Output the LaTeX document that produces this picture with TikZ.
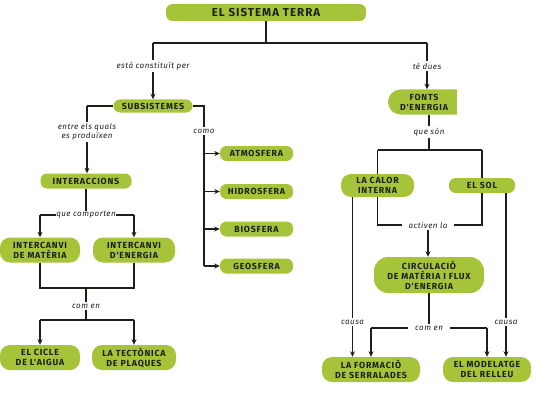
\documentclass[tikz,border=0pt]{standalone}
\usepackage{fontspec}
\usetikzlibrary{arrows.meta,shapes.misc}
\newfontfamily\boxfnt{Fira Sans}[LetterSpace=9]
\newfontfamily\lblfnt{Fira Sans}[LetterSpace=6]
\definecolor{lime}{RGB}{166,196,58}
\definecolor{ink}{RGB}{28,32,24}
\tikzset{
  box/.style={fill=lime, text=ink, rounded corners=6.5pt, inner sep=0pt,
    font=\boxfnt\fontsize{8.8}{10}\selectfont\bfseries, align=center},
  box2/.style={box, rounded corners=10pt},
  lbl/.style={fill=white, inner sep=1.5pt, text=ink,
    font=\lblfnt\fontsize{8}{9.5}\selectfont\itshape, align=center},
  conn/.style={draw=ink, line width=1.1pt},
  arr/.style={conn, -{Stealth[length=5.5pt,width=5pt]}}
}
\begin{document}
\begin{tikzpicture}[x=1pt,y=-1pt]
\useasboundingbox (0,0) rectangle (537,393);
% nodes
\node[box, minimum width=200pt, minimum height=17pt, font=\boxfnt\fontsize{11.5}{13}\selectfont\bfseries] (terra) at (266,12.5) {EL SISTEMA TERRA};
\node[box, minimum width=79pt, minimum height=13pt] (subs) at (153,106) {SUBSISTEMES};
\node[fill=lime, text=ink, inner sep=0pt, font=\boxfnt\fontsize{8.8}{10}\selectfont\bfseries, align=center,
  rounded rectangle, rounded rectangle right arc=none, minimum width=69pt, minimum height=25pt] (fonts) at (424,102) {FONTS\\D'ENERGIA};
\node[box, minimum width=91pt, minimum height=15pt] (inter) at (86,181) {INTERACCIONS};
\node[box, minimum width=73pt, minimum height=15pt] (atmo) at (256.5,153.5) {ATMOSFERA};
\node[box, minimum width=73pt, minimum height=15pt] (hidro) at (256.5,191.5) {HIDROSFERA};
\node[box, minimum width=73pt, minimum height=15pt] (bio) at (256.5,229) {BIOSFERA};
\node[box, minimum width=73pt, minimum height=15pt] (geo) at (256.5,266) {GEOSFERA};
\node[box2, minimum width=80pt, minimum height=25pt] (imat) at (40,250) {INTERCANVI\\DE MATÈRIA};
\node[box2, minimum width=82pt, minimum height=25pt] (iene) at (134,250) {INTERCANVI\\D'ENERGIA};
\node[box2, minimum width=80pt, minimum height=25pt] (cicle) at (40,357.5) {EL CICLE\\DE L'AIGUA};
\node[box2, minimum width=84pt, minimum height=25pt] (tect) at (134,357.5) {LA TECTÒNICA\\DE PLAQUES};
\node[box2, minimum width=73pt, minimum height=23pt] (calor) at (377.5,185.5) {LA CALOR\\INTERNA};
\node[box, minimum width=66pt, minimum height=15pt] (sol) at (482,185.5) {EL SOL};
\node[box2, minimum width=110pt, minimum height=36pt, rounded corners=14pt] (circ) at (429,275) {CIRCULACIÓ\\DE MATÈRIA I FLUX\\D'ENERGIA};
\node[box2, minimum width=98pt, minimum height=25pt] (serr) at (371,369.5) {LA FORMACIÓ\\DE SERRALADES};
\node[box2, minimum width=88pt, minimum height=25pt] (mod) at (487,369.5) {EL MODELATGE\\DEL RELLEU};
% junction coordinates
\coordinate (j1) at (266,43);
\coordinate (j1l) at (153,43);
\coordinate (j1r) at (427,43);
\coordinate (j2) at (87,106);
\coordinate (j3) at (204,106);
\coordinate (j4) at (86,215);
\coordinate (j5) at (86,288);
\coordinate (j6) at (86,320);
\coordinate (j7) at (429,150);
\coordinate (j8) at (428,225);
\coordinate (j9) at (429,328);
% connectors
\draw[conn] (terra.south -| j1) -- (j1);
\draw[conn] (j1l) -- (j1r);
\draw[arr] (j1l) -- (j1l |- subs.north);
\draw[arr] (j1r) -- (j1r |- fonts.north);
\draw[conn] (subs.west) -- (j2);
\draw[arr] (j2) -- (j2 |- inter.north);
\draw[conn] (subs.east) -- (j3) -- (j3 |- geo.west);
\draw[arr] (j3 |- atmo.west) -- (atmo.west);
\draw[arr] (j3 |- hidro.west) -- (hidro.west);
\draw[arr] (j3 |- bio.west) -- (bio.west);
\draw[arr] (j3 |- geo.west) -- (geo.west);
\draw[conn] (inter.south -| j4) -- (j4);
\draw[conn] (j4 -| imat.north) -- (j4 -| iene.north);
\draw[arr] (j4 -| imat.north) -- (imat.north);
\draw[arr] (j4 -| iene.north) -- (iene.north);
\draw[conn] (imat.south) -- (j5 -| imat.south) -- (j5 -| iene.south) -- (iene.south);
\draw[conn] (j5) -- (j6);
\draw[conn] (j6 -| cicle.north) -- (j6 -| tect.north);
\draw[arr] (j6 -| cicle.north) -- (cicle.north);
\draw[arr] (j6 -| tect.north) -- (tect.north);
% right side
\draw[conn] (fonts.south -| j7) -- (j7);
\draw[conn] (j7 -| calor.north) -- (j7 -| sol.north);
\draw[conn] (j7 -| calor.north) -- (calor.north);
\draw[conn] (j7 -| sol.north) -- (sol.north);
\draw[conn] (calor.south) -- (j8 -| calor.south) -- (j8 -| sol.south) -- (sol.south);
\draw[arr] (j8) -- (j8 |- circ.north);
\draw[arr] ([xshift=-25pt]calor.south) -- ([xshift=-25pt]calor.south |- serr.north);
\draw[arr] ([xshift=24pt]sol.south) -- ([xshift=24pt]sol.south |- mod.north);
\draw[conn] (circ.south -| j9) -- (j9);
\draw[conn] (j9 -| serr.north) -- (j9 -| mod.north);
\draw[arr] (j9 -| serr.north) -- (serr.north);
\draw[arr] (j9 -| mod.north) -- (mod.north);
% labels
\node[lbl] (l1) at (153,66) {està constituït per};
\node[lbl] (l2) at (427,66) {té dues};
\node[lbl] (l3) at (87,132) {entre els quals\\es produïxen};
\node[lbl] (l4) at (204,131) {como};
\node[lbl, inner sep=0.5pt] (l5) at (86,215) {que comporten};
\node[lbl] (l6) at (86,306) {com en};
\node[lbl] (l7) at (429,132) {que són};
\node[lbl, inner xsep=7pt] (l8) at (428,225) {activen la};
\node[lbl] (l9) at ([xshift=-25pt]calor.south |- 0,322) {causa};
\node[lbl] (l10) at ([xshift=24pt]sol.south |- 0,322) {causa};
\node[lbl, inner xsep=7pt] (l11) at (429,328) {com en};
\end{tikzpicture}
\end{document}
